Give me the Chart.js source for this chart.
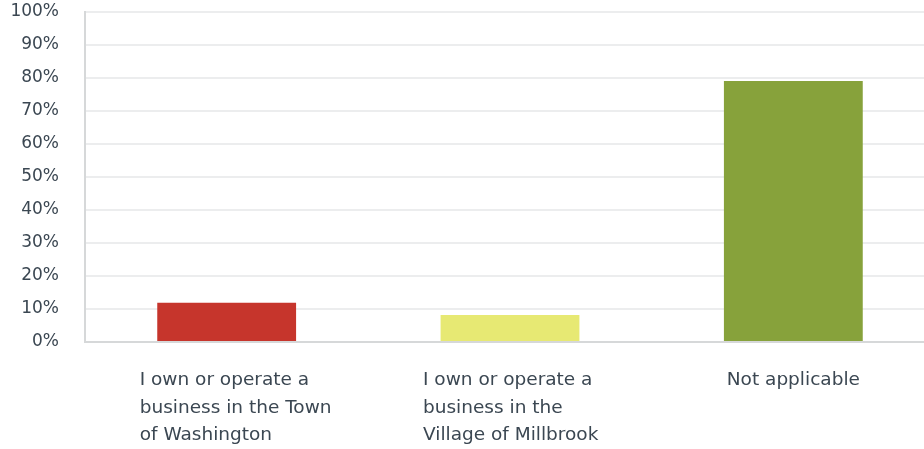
<!DOCTYPE html>
<html>
<head>
<meta charset="utf-8">
<script src="https://cdn.jsdelivr.net/npm/chart.js@4/dist/chart.umd.min.js"></script>
<style>
  html, body { margin: 0; padding: 0; background: #fff; overflow: hidden; }
  .wrap { position: relative; width: 935px; height: 449px; }
</style>
</head>
<body>
<div class="wrap"><canvas id="chart"></canvas></div>
<script>
// categories (each line of a wrapped label)
const categories = [
  ['I own or operate a', 'business in the Town', 'of Washington'],
  ['I own or operate a', 'business in the', 'Village of Millbrook'],
  ['Not applicable']
];
const values = [11.9, 8.2, 79.1];
const barColors = ['#c6352c', '#e7e973', '#87a23b'];
const yTicks = [0, 10, 20, 30, 40, 50, 60, 70, 80, 90, 100];

const textColor = '#3b4752';
const fontFamily = '"DejaVu Sans", sans-serif';

// draws the wrapped category labels left-aligned like the original
const categoryLabels = {
  id: 'categoryLabels',
  afterDraw(chart) {
    const ctx = chart.ctx;
    const x = chart.scales.x;
    ctx.save();
    ctx.font = '18.5px ' + fontFamily;
    ctx.fillStyle = textColor;
    ctx.textBaseline = 'alphabetic';
    categories.forEach((lines, i) => {
      const cx = x.getPixelForValue(i);
      const left = lines.length > 1;
      ctx.textAlign = left ? 'left' : 'center';
      const tx = left ? cx - 87 : cx;
      lines.forEach((line, j) => {
        ctx.fillText(line, tx, x.bottom - 64 + j * 27.7);
      });
    });
    ctx.restore();
  }
};

new Chart(document.getElementById('chart'), {
  type: 'bar',
  data: {
    labels: categories.map(c => c.join(' ')),
    datasets: [{
      data: values,
      backgroundColor: barColors,
      barPercentage: 0.49,
      categoryPercentage: 1
    }]
  },
  options: {
    responsive: true,
    maintainAspectRatio: false,
    animation: false,
    layout: { padding: { top: 12, right: 0, left: 0, bottom: 0 } },
    plugins: { legend: { display: false }, tooltip: { enabled: false } },
    scales: {
      x: {
        grid: { display: false },
        border: { color: '#d6d8d9', width: 2 },
        ticks: { display: false },
        afterFit(scale) { scale.height = 107; }
      },
      y: {
        min: 0,
        max: 100,
        afterBuildTicks(scale) { scale.ticks = yTicks.map(v => ({ value: v })); },
        grid: { color: '#ecedee', lineWidth: 2, drawTicks: false },
        border: { color: '#d6d8d9', width: 2 },
        ticks: {
          color: textColor,
          padding: 26,
          font: { family: fontFamily, size: 17 },
          callback: v => v + '%'
        },
        afterFit(scale) {
          scale.width = 85;
          scale.paddingTop = 0;
          scale.paddingBottom = 0;
        }
      }
    }
  },
  plugins: [categoryLabels]
});
</script>
</body>
</html>
